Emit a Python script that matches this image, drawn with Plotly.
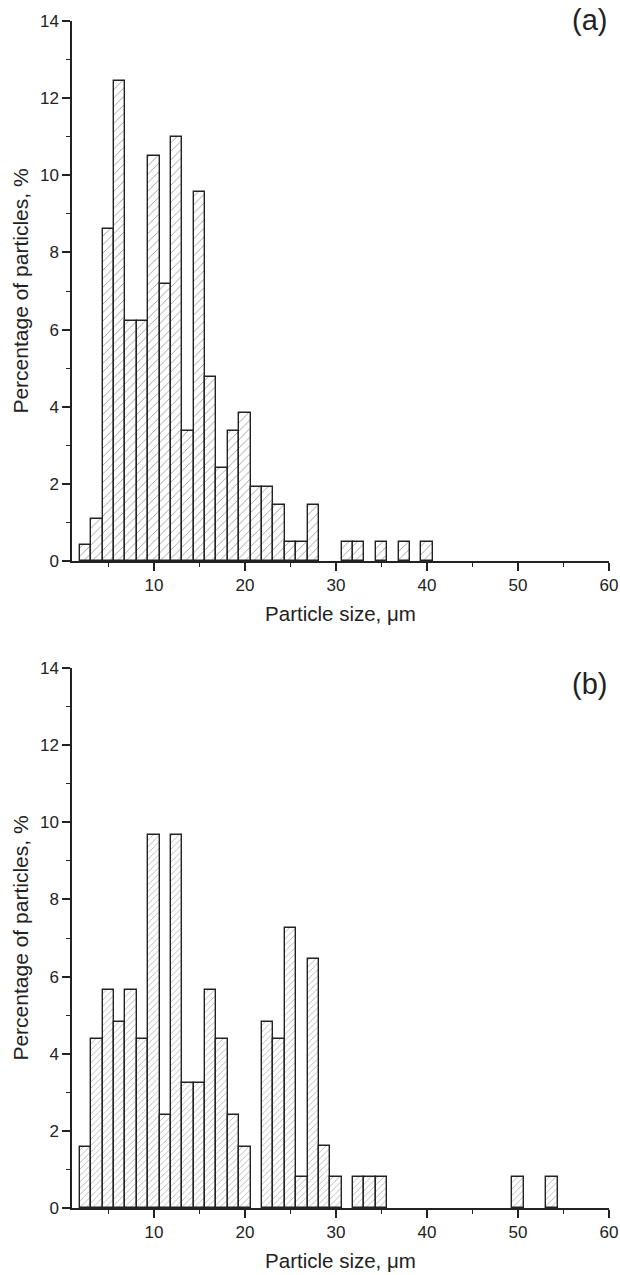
import plotly.graph_objects as go

# bin centres (µm), bin width 1.25
bins_a = [2.5, 3.75, 5, 6.25, 7.5, 8.75, 10, 11.25, 12.5, 13.75, 15, 16.25, 17.5,
          18.75, 20, 21.25, 22.5, 23.75, 25, 26.25, 27.5, 31.25, 32.5, 35, 37.5, 40]
vals_a = [0.42, 1.10, 8.61, 12.44, 6.23, 6.23, 10.50, 7.17, 11.0, 3.36, 9.57, 4.78, 2.40,
          3.36, 3.84, 1.91, 1.91, 1.46, 0.48, 0.48, 1.46, 0.48, 0.48, 0.48, 0.48, 0.48]

bins_b = [2.5, 3.75, 5, 6.25, 7.5, 8.75, 10, 11.25, 12.5, 13.75, 15, 16.25, 17.5,
          18.75, 20, 22.5, 23.75, 25, 26.25, 27.5, 28.75, 30, 32.5, 33.75, 35, 50, 53.75]
vals_b = [1.59, 4.38, 5.64, 4.83, 5.64, 4.38, 9.68, 2.41, 9.68, 3.23, 3.23, 5.64, 4.38,
          2.41, 1.59, 4.83, 4.38, 7.25, 0.80, 6.45, 1.62, 0.80, 0.80, 0.80, 0.80, 0.80, 0.80]

bin_width = 1.25
x_ticks = [10, 20, 30, 40, 50, 60]
y_ticks = [0, 2, 4, 6, 8, 10, 12, 14]
panel_labels = ["(a)", "(b)"]
x_title = "Particle size, \u03bcm"
y_title = "Percentage of particles, %"

W, H = 620, 1275
ml, mr, mt, mb = 72, 11, 21, 67
ph = H - mt - mb
top_dom = [(1208 - 561) / ph, 1.0]
bot_dom = [0.0, (1208 - 668) / ph]

font = "Liberation Sans, Arial, sans-serif"
ink = "#222222"

fig = go.Figure()

def add_bars(xs, ys, xa, ya, hsize):
    fig.add_trace(go.Bar(
        x=xs, y=ys, width=[bin_width] * len(xs), xaxis=xa, yaxis=ya,
        marker=dict(color="white", line=dict(color=ink, width=1.4),
                    pattern=dict(shape="/", fgcolor="#2a2a2a", bgcolor="white",
                                 size=hsize, solidity=0.14, fillmode="overlay")),
        showlegend=False, hoverinfo="x+y"))

add_bars(bins_a, vals_a, "x", "y", 6)
add_bars(bins_b, vals_b, "x2", "y2", 4.5)

xax = dict(range=[1, 60], tickvals=x_ticks, showline=True, linecolor=ink, linewidth=1.5,
           ticks="outside", ticklen=8, tickwidth=1.5, tickcolor=ink, automargin=False,
           minor=dict(tickvals=[5, 15, 25, 35, 45, 55], ticks="outside", ticklen=4,
                      tickwidth=1.3, tickcolor=ink),
           showgrid=False, zeroline=False,
           tickfont=dict(family=font, size=17, color=ink),
           title=dict(text=x_title, font=dict(family=font, size=20.5, color=ink), standoff=12))
yax = dict(range=[0, 14], tickvals=y_ticks, showline=True, linecolor=ink, linewidth=1.5,
           ticks="outside", ticklen=8, tickwidth=1.5, tickcolor=ink, automargin=False,
           minor=dict(tickvals=[1, 3, 5, 7, 9, 11, 13], ticks="outside", ticklen=4,
                      tickwidth=1.3, tickcolor=ink),
           showgrid=False, zeroline=False,
           tickfont=dict(family=font, size=17, color=ink),
           title=dict(text=y_title, font=dict(family=font, size=21, color=ink), standoff=6))

fig.update_layout(
    width=W, height=H, margin=dict(l=ml, r=mr, t=mt, b=mb, autoexpand=False),
    paper_bgcolor="white", plot_bgcolor="white", bargap=0,
    xaxis=dict(xax, domain=[0, 1], anchor="y"),
    yaxis=dict(yax, domain=top_dom, anchor="x"),
    xaxis2=dict(xax, domain=[0, 1], anchor="y2"),
    yaxis2=dict(yax, domain=bot_dom, anchor="x2"),
)

def ypix_to_paper(py):
    return (H - mb - py) / ph

fig.add_annotation(text=panel_labels[0], xref="paper", yref="paper",
                   x=1.0, y=ypix_to_paper(20), xanchor="right", yanchor="middle",
                   showarrow=False, font=dict(family=font, size=29, color=ink))
fig.add_annotation(text=panel_labels[1], xref="paper", yref="paper",
                   x=1.0, y=ypix_to_paper(684), xanchor="right", yanchor="middle",
                   showarrow=False, font=dict(family=font, size=29, color=ink))

fig.write_html("out.html", config={"displayModeBar": False},
               post_script="document.body.style.margin='0';document.body.style.overflow='hidden';")
